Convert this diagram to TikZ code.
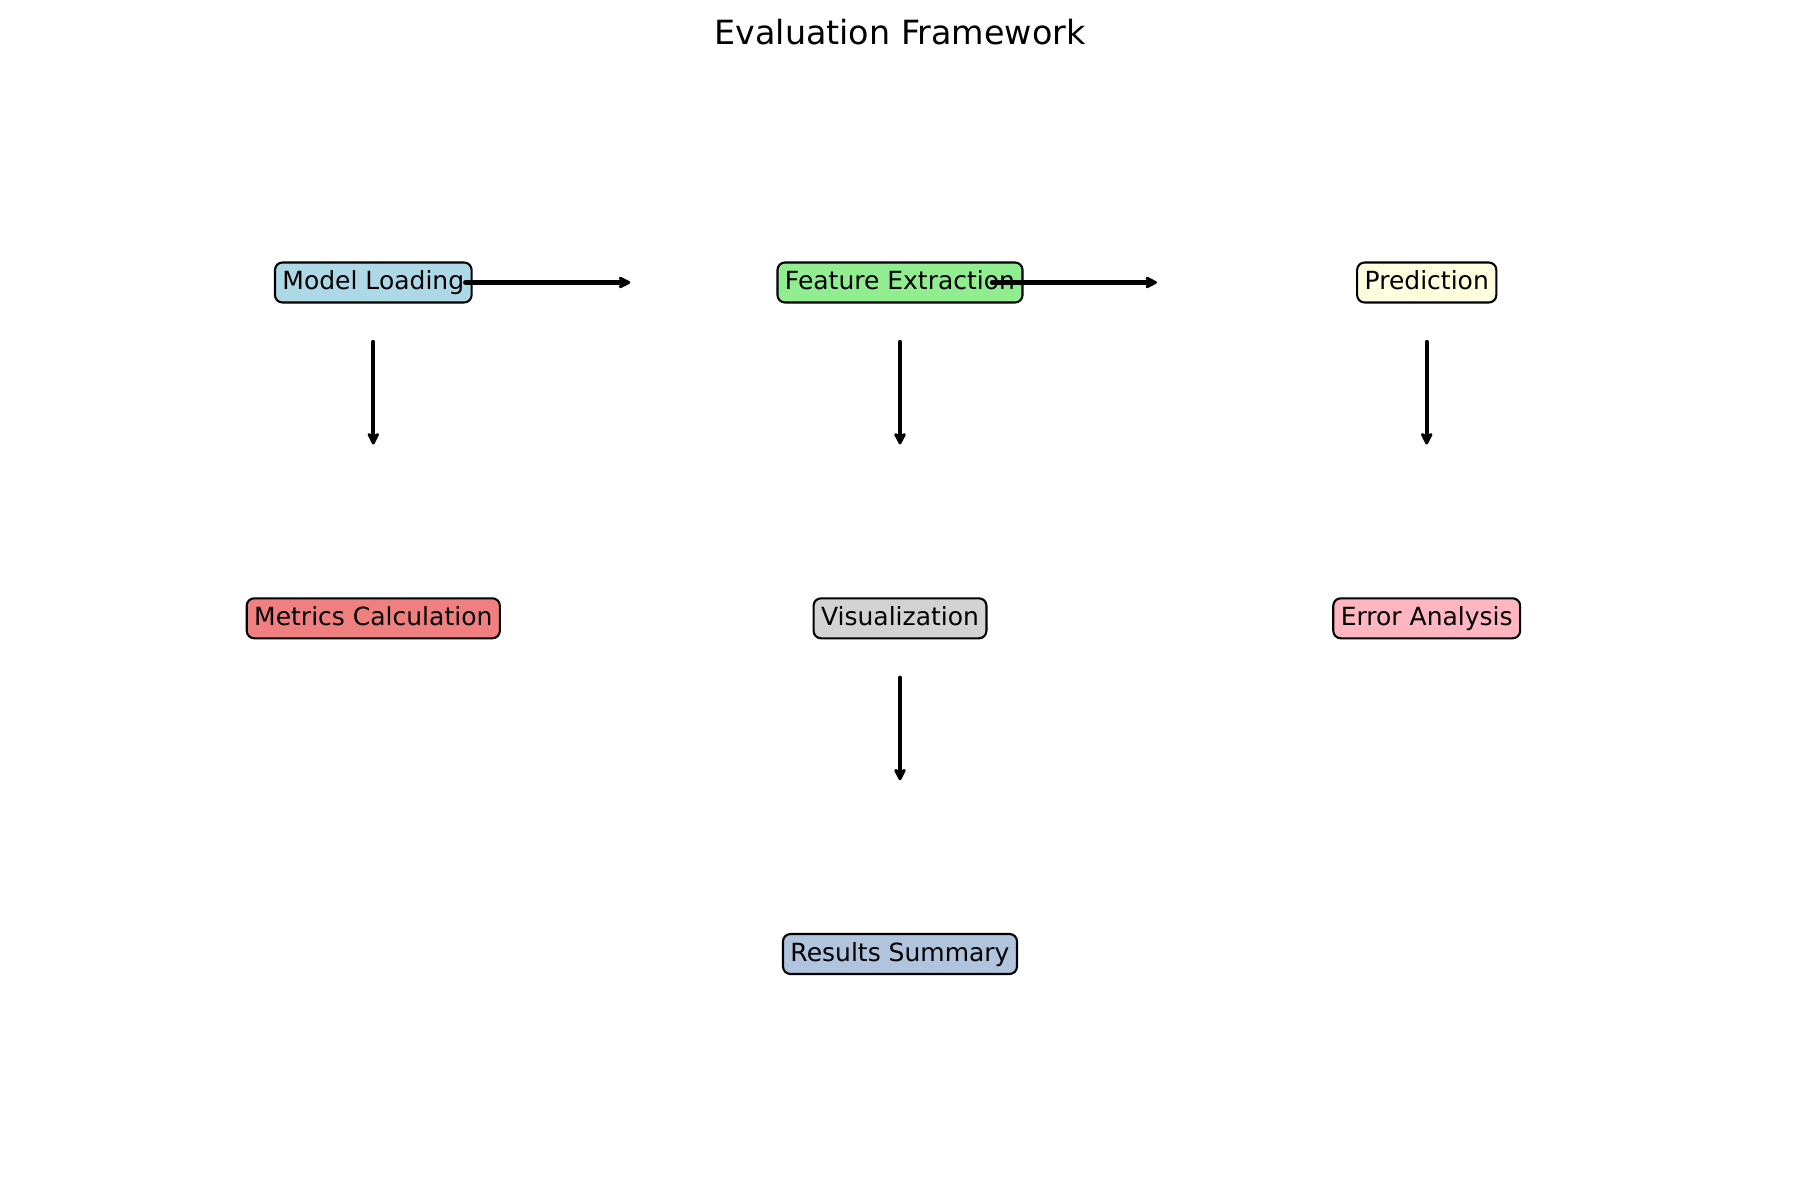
\documentclass[tikz,border=0pt]{standalone}
\usepackage{fontspec}
\setmainfont{DejaVu Sans}
\usetikzlibrary{arrows.meta,calc}
\definecolor{cLightBlue}{HTML}{ADD8E6}
\definecolor{cLightGreen}{HTML}{90EE90}
\definecolor{cLightYellow}{HTML}{FFFFE0}
\definecolor{cLightCoral}{HTML}{F08080}
\definecolor{cLightGray}{HTML}{D3D3D3}
\definecolor{cLightPink}{HTML}{FFB6C1}
\definecolor{cSteel}{HTML}{B0C4DE}
\tikzset{
  stage/.style={draw=black, line width=1pt, rounded corners=3.6pt,
    inner xsep=3.6pt, inner ysep=3.6pt, text height=9.6pt, text depth=2.4pt,
    font=\fontsize{12}{14}\selectfont},
  flow/.style={line width=2.1pt, line cap=round, draw=black,
    -{Stealth[length=7pt,width=7pt,inset=1.8pt,round]}},
  ttl/.style={font=\fontsize{16}{19}\selectfont, anchor=base}
}
\begin{document}
\begin{tikzpicture}[x=0.48pt,y=-0.48pt]
\useasboundingbox (0,0) rectangle (1800,1200);
\node[ttl] (title) at (900,45) {Evaluation Framework};
\node[stage, fill=cLightBlue] (ml) at (373.3,282.5) {Model Loading};
\node[stage, fill=cLightGreen] (fe) at (900,282.5) {Feature Extraction};
\node[stage, fill=cLightYellow] (pr) at (1426.7,282.5) {Prediction};
\node[stage, fill=cLightCoral] (mc) at (373.3,618.3) {Metrics Calculation};
\node[stage, fill=cLightGray] (vi) at (900,618.3) {Visualization};
\node[stage, fill=cLightPink] (ea) at (1426.7,618.3) {Error Analysis};
\node[stage, fill=cSteel] (rs) at (900,954) {Results Summary};
\draw[flow] ($(ml.center)+(92,0)$) -- ($(ml.center)+(257,0)$);
\draw[flow] ($(fe.center)+(92,0)$) -- ($(fe.center)+(257,0)$);
\draw[flow] ($(ml.center)+(0,59.5)$) -- ($(ml.center)+(0,162)$);
\draw[flow] ($(fe.center)+(0,59.5)$) -- ($(fe.center)+(0,162)$);
\draw[flow] ($(pr.center)+(0,59.5)$) -- ($(pr.center)+(0,162)$);
\draw[flow] ($(vi.center)+(0,59.5)$) -- ($(vi.center)+(0,162)$);
\end{tikzpicture}
\end{document}
